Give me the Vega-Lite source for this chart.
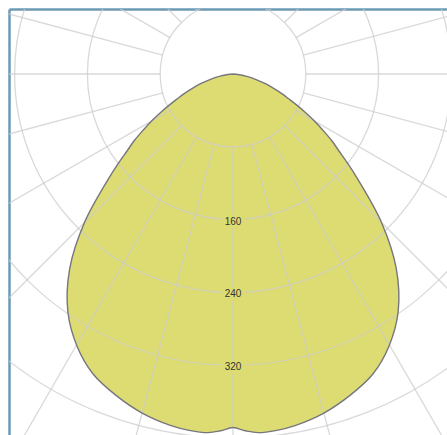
{
  "$schema": "https://vega.github.io/schema/vega-lite/v6.json",
  "width": 438,
  "height": 426,
  "padding": {"left": 9, "top": 9, "right": 0, "bottom": 0},
  "autosize": {"type": "none"},
  "background": "white",
  "config": {"view": {"stroke": null}},
  "datasets": {
    "curve": [
      {"o": 0, "x": 0, "y": 0},
      {"o": 1, "x": 5.47, "y": 0.48},
      {"o": 2, "x": 15.15, "y": 2.67},
      {"o": 3, "x": 26.66, "y": 6.65},
      {"o": 4, "x": 36.78, "y": 11.24},
      {"o": 5, "x": 46.47, "y": 16.91},
      {"o": 6, "x": 54.0, "y": 21.81},
      {"o": 7, "x": 61.24, "y": 27.26},
      {"o": 8, "x": 70.12, "y": 34.2},
      {"o": 9, "x": 79.56, "y": 42.31},
      {"o": 10, "x": 89.46, "y": 51.65},
      {"o": 11, "x": 98.78, "y": 61.73},
      {"o": 12, "x": 108.42, "y": 73.12},
      {"o": 13, "x": 116.46, "y": 84.62},
      {"o": 14, "x": 126.43, "y": 98.78},
      {"o": 15, "x": 136.37, "y": 114.43},
      {"o": 16, "x": 163.18, "y": 163.18},
      {"o": 17, "x": 179.42, "y": 213.81},
      {"o": 18, "x": 181.5, "y": 261.04},
      {"o": 19, "x": 171.5, "y": 298.82},
      {"o": 20, "x": 153.73, "y": 329.66},
      {"o": 21, "x": 128.54, "y": 353.15},
      {"o": 22, "x": 99.84, "y": 372.57},
      {"o": 23, "x": 68.12, "y": 386.35},
      {"o": 24, "x": 48.08, "y": 391.56},
      {"o": 25, "x": 27.56, "y": 394.09},
      {"o": 26, "x": 13.69, "y": 392.07},
      {"o": 27, "x": 0, "y": 388.5},
      {"o": 28, "x": -13.69, "y": 392.07},
      {"o": 29, "x": -27.56, "y": 394.09},
      {"o": 30, "x": -48.08, "y": 391.56},
      {"o": 31, "x": -68.12, "y": 386.35},
      {"o": 32, "x": -99.84, "y": 372.57},
      {"o": 33, "x": -128.54, "y": 353.15},
      {"o": 34, "x": -153.73, "y": 329.66},
      {"o": 35, "x": -171.5, "y": 298.82},
      {"o": 36, "x": -181.5, "y": 261.04},
      {"o": 37, "x": -179.42, "y": 213.81},
      {"o": 38, "x": -163.18, "y": 163.18},
      {"o": 39, "x": -136.37, "y": 114.43},
      {"o": 40, "x": -126.43, "y": 98.78},
      {"o": 41, "x": -116.46, "y": 84.62},
      {"o": 42, "x": -108.42, "y": 73.12},
      {"o": 43, "x": -98.78, "y": 61.73},
      {"o": 44, "x": -89.46, "y": 51.65},
      {"o": 45, "x": -79.56, "y": 42.31},
      {"o": 46, "x": -70.12, "y": 34.2},
      {"o": 47, "x": -61.24, "y": 27.26},
      {"o": 48, "x": -54.0, "y": 21.81},
      {"o": 49, "x": -46.47, "y": 16.91},
      {"o": 50, "x": -36.78, "y": 11.24},
      {"o": 51, "x": -26.66, "y": 6.65},
      {"o": 52, "x": -15.15, "y": 2.67},
      {"o": 53, "x": -5.47, "y": 0.48},
      {"o": 54, "x": 0, "y": 0}
    ],
    "rings": [{"r": 80}, {"r": 160}, {"r": 240}, {"r": 320}, {"r": 400}, {"r": 480}],
    "spokes": [
      {"a": 0, "x": 0, "y": 80, "x2": 0, "y2": 600},
      {"a": 15, "x": 20.71, "y": 77.27, "x2": 155.29, "y2": 579.56},
      {"a": 30, "x": 40, "y": 69.28, "x2": 300, "y2": 519.62},
      {"a": 45, "x": 56.57, "y": 56.57, "x2": 424.26, "y2": 424.26},
      {"a": 60, "x": 69.28, "y": 40, "x2": 519.62, "y2": 300},
      {"a": 75, "x": 77.27, "y": 20.71, "x2": 579.56, "y2": 155.29},
      {"a": 90, "x": 80, "y": 0, "x2": 600, "y2": 0},
      {"a": 105, "x": 77.27, "y": -20.71, "x2": 579.56, "y2": -155.29},
      {"a": 120, "x": 69.28, "y": -40, "x2": 519.62, "y2": -300},
      {"a": 135, "x": 56.57, "y": -56.57, "x2": 424.26, "y2": -424.26},
      {"a": 150, "x": 40, "y": -69.28, "x2": 300, "y2": -519.62},
      {"a": 165, "x": 20.71, "y": -77.27, "x2": 155.29, "y2": -579.56},
      {"a": 180, "x": 0, "y": -80, "x2": 0, "y2": -600},
      {"a": 195, "x": -20.71, "y": -77.27, "x2": -155.29, "y2": -579.56},
      {"a": 210, "x": -40, "y": -69.28, "x2": -300, "y2": -519.62},
      {"a": 225, "x": -56.57, "y": -56.57, "x2": -424.26, "y2": -424.26},
      {"a": 240, "x": -69.28, "y": -40, "x2": -519.62, "y2": -300},
      {"a": 255, "x": -77.27, "y": -20.71, "x2": -579.56, "y2": -155.29},
      {"a": 270, "x": -80, "y": 0, "x2": -600, "y2": 0},
      {"a": 285, "x": -77.27, "y": 20.71, "x2": -579.56, "y2": 155.29},
      {"a": 300, "x": -69.28, "y": 40, "x2": -519.62, "y2": 300},
      {"a": 315, "x": -56.57, "y": 56.57, "x2": -424.26, "y2": 424.26},
      {"a": 330, "x": -40, "y": 69.28, "x2": -300, "y2": 519.62},
      {"a": 345, "x": -20.71, "y": 77.27, "x2": -155.29, "y2": 579.56}
    ],
    "labels": [{"v": 160, "t": "160"}, {"v": 240, "t": "240"}, {"v": 320, "t": "320"}]
  },
  "encoding": {
    "x": {
      "type": "quantitative",
      "scale": {"domain": [-246.15, 235.16], "nice": false, "zero": false},
      "axis": {"orient": "top", "title": null, "labels": false, "ticks": false, "grid": false, "domain": true, "domainColor": "#6c9ab4", "domainWidth": 2.5}
    },
    "y": {
      "type": "quantitative",
      "scale": {"domain": [-71.43, 396.7], "nice": false, "zero": false, "reverse": true},
      "axis": {"orient": "left", "title": null, "labels": false, "ticks": false, "grid": false, "domain": true, "domainColor": "#6c9ab4", "domainWidth": 2.5}
    }
  },
  "layer": [
    {
      "data": {"name": "curve"},
      "mark": {"type": "line", "fill": "#dddc72", "stroke": null, "interpolate": "catmull-rom", "clip": true},
      "encoding": {
        "x": {"field": "x", "type": "quantitative"},
        "y": {"field": "y", "type": "quantitative"},
        "order": {"field": "o", "type": "quantitative"}
      }
    },
    {
      "data": {"name": "rings"},
      "mark": {"type": "arc", "theta": 0, "theta2": 6.2832, "filled": false, "stroke": "#cccccc", "strokeOpacity": 0.75, "strokeWidth": 1.3, "clip": true},
      "encoding": {
        "x": {"datum": 0, "type": "quantitative"},
        "y": {"datum": 0, "type": "quantitative"},
        "radius": {"field": "r", "type": "quantitative", "stack": null, "scale": {"type": "linear", "domain": [0, 400], "range": [0, 364], "zero": true}}
      }
    },
    {
      "data": {"name": "spokes"},
      "mark": {"type": "rule", "stroke": "#cccccc", "strokeOpacity": 0.75, "strokeWidth": 1.3, "clip": true},
      "encoding": {
        "x": {"field": "x", "type": "quantitative"},
        "y": {"field": "y", "type": "quantitative"},
        "x2": {"field": "x2"},
        "y2": {"field": "y2"}
      }
    },
    {
      "data": {"name": "curve"},
      "mark": {"type": "line", "stroke": "#76767e", "strokeWidth": 1.4, "interpolate": "catmull-rom", "clip": true},
      "encoding": {
        "x": {"field": "x", "type": "quantitative"},
        "y": {"field": "y", "type": "quantitative"},
        "order": {"field": "o", "type": "quantitative"}
      }
    },
    {
      "data": {"name": "labels"},
      "mark": {"type": "point", "shape": "M-1,-0.42H1V0.66H-1Z", "size": 576, "filled": true, "fill": "#dddc72", "opacity": 1, "strokeWidth": 0},
      "encoding": {
        "x": {"datum": 0, "type": "quantitative"},
        "y": {"field": "v", "type": "quantitative"}
      }
    },
    {
      "data": {"name": "labels"},
      "mark": {"type": "text", "font": "Liberation Sans", "fontSize": 10, "fill": "#333333", "baseline": "middle", "align": "center", "dy": 2},
      "encoding": {
        "x": {"datum": 0, "type": "quantitative"},
        "y": {"field": "v", "type": "quantitative"},
        "text": {"field": "t"}
      }
    }
  ]
}
